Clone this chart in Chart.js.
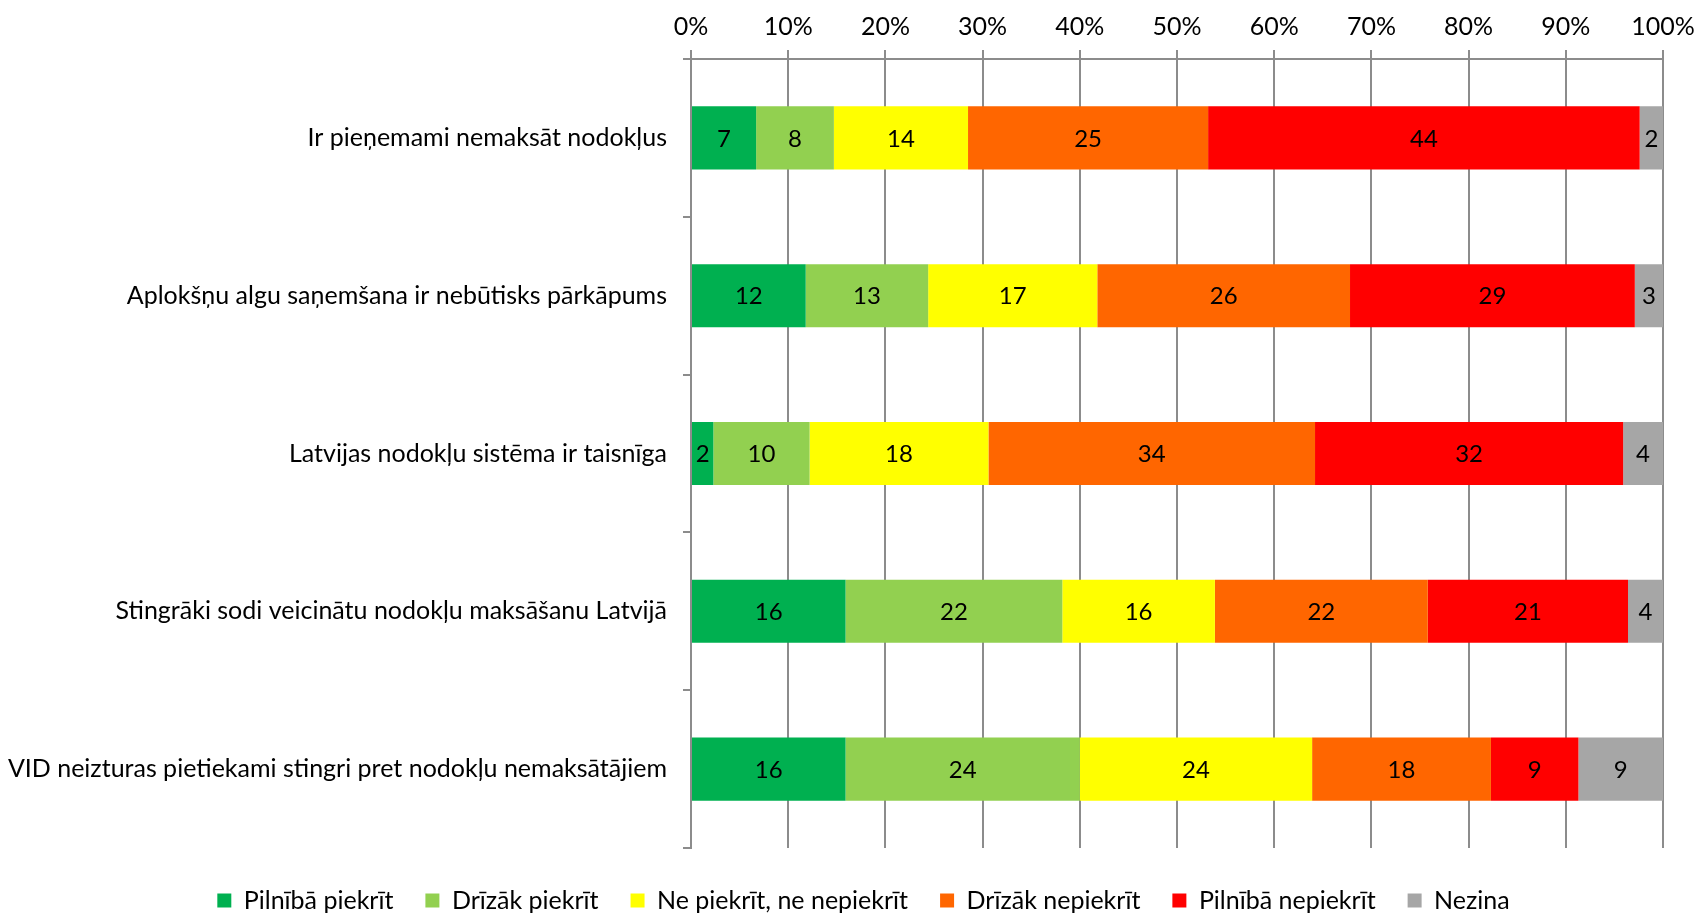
<!DOCTYPE html>
<html>
<head>
<meta charset="utf-8">
<script src="https://cdn.jsdelivr.net/npm/chart.js@4/dist/chart.umd.min.js"></script>
<style>
  html, body { margin: 0; padding: 0; background: #fff; }
  #wrap { width: 1698px; height: 916px; }
</style>
</head>
<body>
<div id="wrap"><canvas id="myChart" width="1698" height="916"></canvas></div>
<script>
let labels = [
    'Ir pieņemami nemaksāt nodokļus',
    'Aplokšņu algu saņemšana ir nebūtisks pārkāpums',
    'Latvijas nodokļu sistēma ir taisnīga',
    'Stingrāki sodi veicinātu nodokļu maksāšanu Latvijā',
    'VID neizturas pietiekami stingri pret nodokļu nemaksātājiem'
];
let seriesNames = ['Pilnībā piekrīt', 'Drīzāk piekrīt', 'Ne piekrīt, ne nepiekrīt', 'Drīzāk nepiekrīt', 'Pilnībā nepiekrīt', 'Nezina'];
let colorHex = ['#00B050', '#92D050', '#FFFF00', '#FF6600', '#FF0000', '#A6A6A6'];

// percentages (labels show rounded values)
let pilnibaPiekrit   = [6.7, 11.8, 2.3, 15.9, 15.9];
let drizakPiekrit    = [8.0, 12.6, 9.9, 22.3, 24.1];
let nePiekrit        = [13.8, 17.4, 18.4, 15.7, 23.9];
let drizakNepiekrit  = [24.7, 26.0, 33.6, 21.9, 18.4];
let pilnibaNepiekrit = [44.4, 29.3, 31.7, 20.6, 9.0];
let nezina           = [2.4, 2.9, 4.1, 3.6, 8.7];

let seriesData = [pilnibaPiekrit, drizakPiekrit, nePiekrit, drizakNepiekrit, pilnibaNepiekrit, nezina];
let fontFamily = 'Lato, "Open Sans", sans-serif';
let gridColor = '#8C8C8C';

let barLabels = {
    id: 'barLabels',
    afterDatasetsDraw(chart) {
        let c = chart.ctx;
        c.save();
        c.font = '24px ' + fontFamily;
        c.fillStyle = '#000';
        c.textAlign = 'center';
        c.textBaseline = 'middle';
        chart.data.datasets.forEach((ds, i) => {
            chart.getDatasetMeta(i).data.forEach((bar, j) => {
                let p = bar.getProps(['x', 'y', 'base'], true);
                c.fillText(Math.round(ds.data[j]), (p.x + p.base) / 2, p.y + 1);
            });
        });
        c.restore();
    }
};

// legend in the original sits a bit right of the page centre
let legendShift = {
    id: 'legendShift',
    afterLayout(chart) {
        chart.legend.left += 32;
        chart.legend.right += 32;
    }
};

let ctx = document.getElementById('myChart').getContext('2d');
let myChart = new Chart(ctx, {
    type: 'bar',
    data: {
        labels: labels,
        datasets: seriesData.map((d, i) => ({
            label: seriesNames[i],
            data: d,
            backgroundColor: colorHex[i],
            barPercentage: 0.4,
            categoryPercentage: 1
        }))
    },
    options: {
        indexAxis: 'y',
        responsive: false,
        animation: false,
        layout: { padding: { top: 0, right: 35, bottom: -7, left: 0 } },
        scales: {
            x: {
                position: 'top',
                stacked: true,
                min: 0,
                max: 100,
                ticks: {
                    stepSize: 10,
                    padding: 8,
                    color: '#000',
                    font: { family: fontFamily, size: 25 },
                    callback: v => v + '%'
                },
                grid: { color: gridColor, lineWidth: 2, tickLength: 9, tickColor: gridColor },
                border: { color: gridColor, width: 2 },
                afterFit: s => { s.height = 59; s.paddingRight = 0; s.paddingLeft = 0; }
            },
            y: {
                stacked: true,
                ticks: {
                    padding: 16,
                    color: '#000',
                    font: { family: fontFamily, size: 25 }
                },
                grid: { drawOnChartArea: false, color: gridColor, lineWidth: 2, tickLength: 8, tickColor: gridColor },
                border: { color: gridColor, width: 2 },
                afterFit: s => { s.width = 691; }
            }
        },
        plugins: {
            legend: {
                position: 'bottom',
                title: { display: true, text: '', padding: 0, font: { size: 8, lineHeight: 1 } },
                labels: {
                    boxWidth: 14,
                    boxHeight: 14,
                    padding: 32,
                    color: '#000',
                    font: { family: fontFamily, size: 25 }
                }
            },
            tooltip: { enabled: false }
        }
    },
    plugins: [barLabels, legendShift]
});
</script>
</body>
</html>
